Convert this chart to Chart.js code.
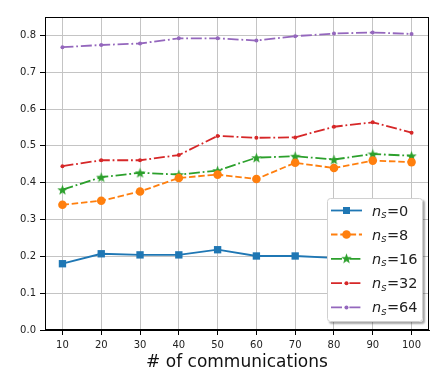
<!DOCTYPE html>
<html>
<head>
<meta charset="utf-8">
<script src="https://cdn.jsdelivr.net/npm/chart.js"></script>
<style>
  body { margin: 0; background: #fff; }
</style>
</head>
<body>
<canvas id="comm-chart" width="446" height="389"></canvas>
<script>
// chart data
const communications = [10, 20, 30, 40, 50, 60, 70, 80, 90, 100];
const nsLabels = ['0', '8', '16', '32', '64'];
const ns0 = [0.180, 0.207, 0.204, 0.204, 0.218, 0.201, 0.201, 0.196, 0.195, 0.193];
const ns8 = [0.340, 0.351, 0.376, 0.413, 0.422, 0.410, 0.454, 0.440, 0.460, 0.456];
const ns16 = [0.381, 0.415, 0.427, 0.422, 0.433, 0.468, 0.472, 0.463, 0.478, 0.473];
const ns32 = [0.445, 0.461, 0.461, 0.475, 0.527, 0.522, 0.523, 0.552, 0.564, 0.536];
const ns64 = [0.768, 0.774, 0.778, 0.792, 0.792, 0.786, 0.798, 0.805, 0.808, 0.804];
const yTicks = [0, 0.1, 0.2, 0.3, 0.4, 0.5, 0.6, 0.7, 0.8];

const FONT = 'DejaVu Sans';
const colors = ['#1f77b4', '#ff7f0e', '#2ca02c', '#d62728', '#9467bd'];
const dashed = [6.5, 2.8];
const dashDot = [11, 2.8, 1.8, 2.8];

// filled five point star, like the matplotlib '*' marker
function makeStar(color, size) {
  const c = document.createElement('canvas');
  c.width = size; c.height = size;
  const g = c.getContext('2d');
  const cx = size / 2, cy = size / 2 + 0.5, R = size / 2, r = R * 0.42;
  g.beginPath();
  for (let i = 0; i < 10; i++) {
    const rad = i % 2 === 0 ? R : r;
    const a = -Math.PI / 2 + i * Math.PI / 5;
    g.lineTo(cx + rad * Math.cos(a), cy + rad * Math.sin(a));
  }
  g.closePath();
  g.fillStyle = color;
  g.fill();
  return c;
}
const star = makeStar(colors[2], 11);

const series = [ns0, ns8, ns16, ns32, ns64];
const styles = [
  { dash: [], point: 'rect', radius: 5.2 },
  { dash: dashed, point: 'circle', radius: 4.3 },
  { dash: dashDot, point: star, radius: 5 },
  { dash: dashDot, point: 'circle', radius: 2 },
  { dash: dashDot, point: 'circle', radius: 2 },
];

const datasets = series.map((vals, i) => ({
  label: 'n_s=' + nsLabels[i],
  data: vals.map((v, j) => ({ x: communications[j], y: v })),
  borderColor: colors[i],
  backgroundColor: colors[i],
  borderWidth: 1.8,
  borderDash: styles[i].dash,
  pointStyle: styles[i].point,
  pointRadius: styles[i].radius,
  pointBorderWidth: 0,
  pointHoverRadius: styles[i].radius,
  tension: 0,
}));

// box around the plot and the legend inside it
const frameAndLegend = {
  id: 'frameAndLegend',
  afterDraw(chart) {
    const ctx = chart.ctx;
    const a = chart.chartArea;
    ctx.save();
    ctx.strokeStyle = '#000';
    ctx.lineWidth = 1;
    ctx.strokeRect(Math.round(a.left) + 0.5, Math.round(a.top) + 0.5,
      Math.round(a.right - a.left) - 1, Math.round(a.bottom - a.top) - 1);

    // legend box
    const bx = 327, by = 198, bw = 96, bh = 124;
    ctx.save();
    ctx.shadowColor = 'rgba(0,0,0,0.35)';
    ctx.shadowOffsetX = 2;
    ctx.shadowOffsetY = 2;
    ctx.shadowBlur = 2;
    ctx.beginPath();
    ctx.roundRect(bx, by, bw, bh, 3);
    ctx.fillStyle = '#fff';
    ctx.fill();
    ctx.restore();
    ctx.beginPath();
    ctx.roundRect(bx + 0.5, by + 0.5, bw - 1, bh - 1, 3);
    ctx.strokeStyle = '#d0d0d0';
    ctx.stroke();

    const rowY = [210.5, 234.5, 258.8, 283.2, 307.4];
    datasets.forEach((ds, i) => {
      const y = rowY[i];
      ctx.beginPath();
      ctx.setLineDash(ds.borderDash);
      ctx.strokeStyle = ds.borderColor;
      ctx.lineWidth = 1.8;
      ctx.moveTo(331, y);
      ctx.lineTo(362, y);
      ctx.stroke();
      ctx.setLineDash([]);
      ctx.fillStyle = ds.borderColor;
      const mx = 346.5;
      if (i === 0) {
        ctx.fillRect(mx - 3.5, y - 3.5, 7, 7);
      } else if (i === 2) {
        ctx.drawImage(star, mx - 5.5, y - 5.5 - 0.5);
      } else {
        ctx.beginPath();
        ctx.arc(mx, y, ds.pointRadius, 0, Math.PI * 2);
        ctx.fill();
      }
      // n_s=value text
      ctx.fillStyle = '#222';
      ctx.textBaseline = 'alphabetic';
      ctx.textAlign = 'left';
      let tx = 372;
      const base = y + 5;
      ctx.font = 'italic 14.5px "' + FONT + '"';
      ctx.fillText('n', tx, base);
      tx += ctx.measureText('n').width;
      ctx.font = 'italic 10px "' + FONT + '"';
      ctx.fillText('s', tx, base + 2.5);
      tx += ctx.measureText('s').width + 0.5;
      ctx.font = '14.5px "' + FONT + '"';
      ctx.fillText('=' + nsLabels[i], tx, base);
    });
    ctx.restore();
  }
};

new Chart(document.getElementById('comm-chart'), {
  type: 'line',
  data: { datasets: datasets },
  options: {
    responsive: false,
    devicePixelRatio: 1,
    animation: false,
    layout: { padding: { left: 0, top: 17, right: 17, bottom: 0 } },
    plugins: { legend: { display: false }, tooltip: { enabled: false } },
    scales: {
      x: {
        type: 'linear',
        min: 5.5,
        max: 104.5,
        afterBuildTicks: s => { s.ticks = communications.map(v => ({ value: v })); },
        afterFit: s => { s.height = 59; },
        ticks: {
          color: '#222',
          font: { family: FONT, size: 10 },
          padding: 4,
          maxRotation: 0,
          autoSkip: false,
        },
        grid: { color: '#c4c4c4', lineWidth: 1, tickLength: 5, tickColor: '#000' },
        border: { color: '#000' },
        title: {
          display: true,
          text: '# of communications',
          color: '#111',
          font: { family: FONT, size: 17 },
          padding: { top: 0, bottom: 16 },
        },
      },
      y: {
        min: 0,
        max: 0.85,
        afterBuildTicks: s => { s.ticks = yTicks.map(v => ({ value: v })); },
        afterFit: s => { s.width = 45; },
        ticks: {
          color: '#222',
          font: { family: FONT, size: 10 },
          padding: 4,
          callback: v => v.toFixed(1),
        },
        grid: { color: '#c4c4c4', lineWidth: 1, tickLength: 5, tickColor: '#000' },
        border: { color: '#000' },
      },
    },
  },
  plugins: [frameAndLegend],
});
</script>
</body>
</html>
